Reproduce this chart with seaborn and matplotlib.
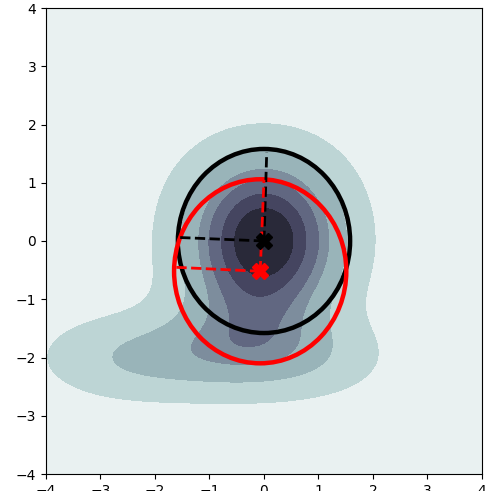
import matplotlib
matplotlib.use("Agg")
import matplotlib.pyplot as plt
from matplotlib.colors import ListedColormap, BoundaryNorm
import seaborn as sns
import pandas as pd

# weighted samples read from the density shape (core column, neck, bulb, tail)
pt_x = [0.0, 0.0, 0.0, 0.0, 0.0, 0.0, -0.1, -0.2, -0.3, -1.3, -2.3, -3.2, 1.0]
pt_y = [2.0, 1.5, 1.0, 0.5, 0.0, -0.5, -1.0, -1.5, -2.0, -2.0, -2.0, -2.0, -2.0]
pt_w = [0.04, 0.25, 0.554, 0.863, 1.0, 0.863, 0.54, 0.45, 0.45, 0.28, 0.42, 0.22, 0.4]
# sparse samples lying far outside the shown window
far_x = [-10.26, 9.74, -10.26, 9.74]
far_y = [9.46, -10.54, -0.54, -0.54]
far_w = [0.0132, 0.0132, 0.1711, 0.1711]

# iso-proportion levels of the filled contours
kde_levels = [0.0, 0.1, 0.3, 0.51, 0.65, 0.8, 0.9, 1.0]

# fitted circles
circ_x = [0.0, -0.07]
circ_y = [0.0, -0.52]
circ_r = [1.58, 1.58]
# radius end points (up, left)
end_up_x = [0.05, 0.0]
end_up_y = [1.52, 1.05]
end_left_x = [-1.55, -1.65]
end_left_y = [0.06, -0.45]

ticks = [-4, -3, -2, -1, 0, 1, 2, 3, 4]

df = pd.DataFrame({"x": pt_x + far_x, "y": pt_y + far_y, "w": pt_w + far_w})

nb = len(kde_levels) - 1
band_cmap = ListedColormap([plt.cm.bone_r((i + 0.5) / 8) for i in range(nb)])

fig = plt.figure(figsize=(4.89, 4.91), dpi=100)
ax = fig.add_axes([46 / 489, 1 - 474 / 491, 436 / 489, 466 / 491])

sns.kdeplot(data=df, x="x", y="y", weights="w", fill=True,
            levels=kde_levels, cmap=band_cmap, bw_method=0.382,
            clip=((-4.3, 4.3), (-4.3, 4.3)), gridsize=220, ax=ax)
cset = ax.collections[-1]
cset.set_norm(BoundaryNorm(cset.levels, nb))

colors = ["black", "red"]
for i in range(2):
    ax.add_patch(plt.Circle((circ_x[i], circ_y[i]), circ_r[i], fill=False,
                            color=colors[i], lw=3.2, zorder=3 + i))
for i in range(2):
    ax.plot([circ_x[i], end_up_x[i]], [circ_y[i], end_up_y[i]], "--",
            color=colors[i], lw=2, zorder=5)
    ax.plot([circ_x[i], end_left_x[i]], [circ_y[i], end_left_y[i]], "--",
            color=colors[i], lw=2, zorder=5)
    ax.plot(circ_x[i], circ_y[i], marker="X", color=colors[i], ms=11,
            zorder=6)

ax.set_xlim(-4, 4)
ax.set_ylim(-4, 4)
ax.set_xticks(ticks)
ax.set_yticks(ticks)
ax.set_xlabel("")
ax.set_ylabel("")
fig.savefig("out.png", dpi=100)
